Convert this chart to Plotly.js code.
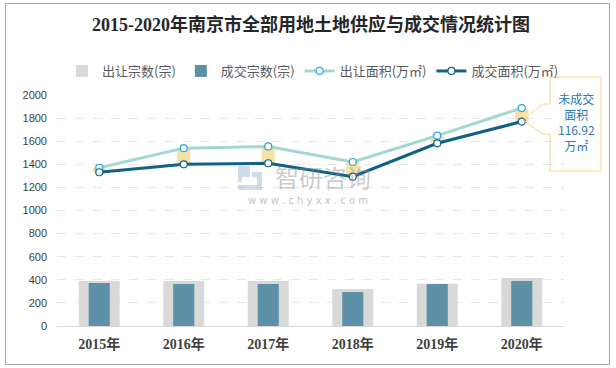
<!DOCTYPE html>
<html><head><meta charset="utf-8">
<script src="https://cdn.plot.ly/plotly-3.0.1.min.js"></script>
<style>
html,body{margin:0;padding:0;background:#fff;}
#wrap{position:relative;width:616px;height:368px;}
#chart{position:absolute;left:0;top:0;width:616px;height:368px;}
#frame{position:absolute;left:5px;top:3px;width:603px;height:360px;border:1px solid #a6a6a6;pointer-events:none;}
</style></head>
<body><div id="wrap"><div id="chart"></div><div id="frame"></div></div>
<script>
const years = ['2015年','2016年','2017年','2018年','2019年','2020年'];
const supplyCount = [390, 390, 390, 320, 365, 415];
const dealCount = [372, 364, 364, 294, 364, 390];
const supplyArea = [1370, 1540, 1555, 1420, 1648, 1887];
const dealArea = [1331, 1400, 1409, 1293, 1582, 1770.08];
const yTicks = [0,200,400,600,800,1000,1200,1400,1600,1800,2000];
const calloutText = '未成交<br>面积<br>116.92<br>万㎡';

const L=57, R=564, T=95, B=326;
const px = v => (v-L)/(R-L);
const py = v => (B-v)/(B-T);

const gap = supplyArea.map((v,i)=>v-dealArea[i]);

const traces = [
 {type:'bar', name:'出让宗数(宗)', x:years, y:supplyCount, width:0.485,
  marker:{color:'#d9d9d9'}, hoverinfo:'skip'},
 {type:'bar', name:'成交宗数(宗)', x:years, y:dealCount, width:0.25,
  marker:{color:'#5e91a8'}, hoverinfo:'skip'},
 {type:'bar', name:'gap', x:years, y:gap, base:dealArea, width:0.155,
  marker:{color:'#f7e1a6'}, showlegend:false, hoverinfo:'skip'},
 {type:'scatter', mode:'lines+markers', name:'出让面积(万㎡)', x:years, y:supplyArea,
  line:{color:'#a2d7d2', width:3},
  marker:{symbol:'circle', size:7, color:'#ffffff', line:{color:'#2ea6dc', width:1.2}}},
 {type:'scatter', mode:'lines+markers', name:'成交面积(万㎡)', x:years, y:dealArea,
  line:{color:'#0f6286', width:3},
  marker:{symbol:'circle', size:7, color:'#ffffff', line:{color:'#0f6286', width:1.2}}}
];

const pathPts = [[550,77],[601,77],[601,171],[550,171],[550,134],[543,134],[523,120],[543,104],[550,104]];
const toPath = pts => 'M ' + pts.map(p=>px(p[0]).toFixed(4)+','+py(p[1]).toFixed(4)).join(' L ') + ' Z';

const logoA = [[238,166],[250,166],[250,177],[242,177],[242,182],[238,182]];
const logoB = [[252,172],[262,172],[262,190],[238,190],[238,185],[257,185],[257,177],[252,177]];

const layout = {
 width:616, height:368,
 margin:{l:L, r:616-R, t:T, b:368-B, pad:0},
 paper_bgcolor:'#ffffff', plot_bgcolor:'#ffffff',
 barmode:'overlay',
 showlegend:true,
 title:{text:'<b>2015-2020年南京市全部用地土地供应与成交情况统计图</b>',
  font:{family:'Liberation Serif, Noto Sans CJK SC, serif', size:18, color:'#262626'},
  x:0.505, xanchor:'center', y:1-25/368, yanchor:'middle'},
 legend:{orientation:'h', x:0.505, xanchor:'center', y:py(71), yanchor:'middle',
  font:{family:'Noto Sans CJK SC, sans-serif', size:13, color:'#595959'},
  bgcolor:'rgba(0,0,0,0)', traceorder:'normal', itemwidth:30},
 xaxis:{type:'category', showgrid:false, showline:true, linecolor:'#d9d9d9', linewidth:1,
  ticks:'', ticklabelstandoff:5,
  tickfont:{family:'Liberation Serif, Noto Sans CJK SC, serif', size:14, color:'#404040', weight:'bold'},
  fixedrange:true},
 yaxis:{range:[0,2000], tickvals:yTicks, showgrid:true, gridcolor:'#e6e6e6', griddash:'dash', gridwidth:1,
  zeroline:false, showline:false, ticks:'', ticklabelstandoff:9,
  tickfont:{family:'Liberation Sans, Noto Sans CJK SC, sans-serif', size:11, color:'#404040'},
  fixedrange:true},
 shapes:[
  {type:'path', xref:'paper', yref:'paper', path:toPath(pathPts), line:{color:'#f8d488', width:1}, fillcolor:'rgba(255,255,255,0)', layer:'above'},
  {type:'path', xref:'paper', yref:'paper', path:toPath(logoA), line:{width:0}, fillcolor:'rgba(150,175,210,0.45)', layer:'above'},
  {type:'path', xref:'paper', yref:'paper', path:toPath(logoB), line:{width:0}, fillcolor:'rgba(150,175,210,0.45)', layer:'above'}
 ],
 annotations:[
  {xref:'paper', yref:'paper', x:px(576), y:py(122), text:calloutText, showarrow:false,
   font:{family:'Noto Sans CJK SC, sans-serif', size:12, color:'#2f77b0'}, align:'center', xanchor:'center', yanchor:'middle'},
  {xref:'paper', yref:'paper', x:px(323), y:py(176), text:'智研咨询', showarrow:false,
   font:{family:'Noto Sans CJK SC, sans-serif', size:24, color:'rgba(140,140,140,0.45)'}, xanchor:'center', yanchor:'middle'},
  {xref:'paper', yref:'paper', x:px(308), y:py(200), text:'w w w . c h y x x . c o m', showarrow:false,
   font:{family:'DejaVu Sans, sans-serif', size:10, color:'rgba(140,140,140,0.55)'}, xanchor:'center', yanchor:'middle'}
 ]
};

Plotly.newPlot('chart', traces, layout, {displayModeBar:false, staticPlot:true});
</script></body></html>
